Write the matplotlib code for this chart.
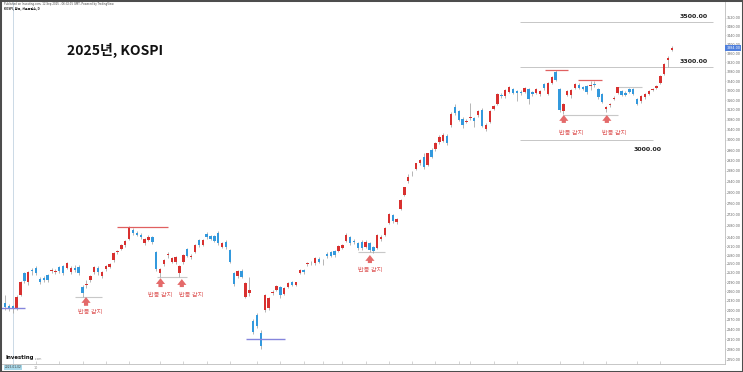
import numpy as np
import matplotlib
matplotlib.use('Agg')
import matplotlib.pyplot as plt
import matplotlib.transforms as mtransforms
from matplotlib.patches import Rectangle
from matplotlib.ticker import FixedLocator, NullLocator

plt.rcParams['font.family'] = ['DejaVu Sans', 'Noto Sans CJK KR']
KR = ['Noto Sans CJK KR', 'DejaVu Sans']

# trading days on the chart (27-Dec-2024 .. 12-Sep-2025), daily KOSPI
days_dec24 = [27, 30]
days_jan = [2, 3, 6, 7, 8, 9, 10, 13, 14, 15, 16, 17, 20, 21, 22, 23, 24, 31]
days_feb = [3, 4, 5, 6, 7, 10, 11, 12, 13, 14, 17, 18, 19, 20, 21, 24, 25, 26, 27, 28]
days_mar = [4, 5, 6, 7, 10, 11, 12, 13, 14, 17, 18, 19, 20, 21, 24, 25, 26, 27, 28, 31]
days_apr = [1, 2, 3, 4, 7, 8, 9, 10, 11, 14, 15, 16, 17, 18, 21, 22, 23, 24, 25, 28, 29, 30]
days_may = [2, 7, 8, 9, 12, 13, 14, 15, 16, 19, 20, 21, 22, 23, 26, 27, 28, 29, 30]
days_jun = [2, 4, 5, 9, 10, 11, 12, 13, 16, 17, 18, 19, 20, 23, 24, 25, 26, 27, 30]
days_jul = [1, 2, 3, 4, 7, 8, 9, 10, 11, 14, 15, 16, 17, 18, 21, 22, 23, 24, 25, 28, 29, 30, 31]
days_aug = [1, 4, 5, 6, 7, 8, 11, 12, 13, 14, 18, 19, 20, 21, 22, 25, 26, 27, 28, 29]
days_sep = [1, 2, 3, 4, 5, 8, 9, 10, 11, 12]

dates = ['2024-12-%02d' % d for d in days_dec24]
for m, days in zip(range(1, 10), [days_jan, days_feb, days_mar, days_apr, days_may,
                                  days_jun, days_jul, days_aug, days_sep]):
    dates += ['2025-%02d-%02d' % (m, d) for d in days]

opens = [2423, 2414, 2412, 2405, 2448, 2519, 2490, 2530, 2538, 2500,
         2505, 2512, 2528, 2523, 2540, 2542, 2538, 2522, 2538, 2540,
         2474, 2480, 2496, 2522, 2536, 2510, 2533, 2540, 2562, 2590,
         2600, 2614, 2636, 2666, 2654, 2648, 2620, 2631, 2641, 2590,
         2520, 2549, 2580, 2557, 2557, 2519, 2555, 2600, 2574, 2591,
         2631, 2614, 2652, 2645, 2645, 2657, 2608, 2625, 2597, 2519,
         2510, 2527, 2441, 2455, 2367, 2385, 2329, 2400, 2406, 2456,
         2466, 2475, 2453, 2475, 2490, 2480, 2521, 2530, 2550, 2552,
         2552, 2567, 2562, 2583, 2590, 2592, 2594, 2605, 2628, 2641,
         2628, 2620, 2626, 2608, 2620, 2606, 2605, 2634, 2650, 2692,
         2719, 2694, 2740, 2792, 2841, 2872, 2886, 2909, 2932, 2902,
         2961, 2963, 2990, 2996, 3015, 3058, 3131, 3114, 3082, 3072,
         3086, 3085, 3098, 3121, 3041, 3072, 3125, 3145, 3182, 3177,
         3195, 3207, 3196, 3195, 3195, 3208, 3194, 3190, 3186, 3226,
         3186, 3232, 3278, 3208, 3114, 3180, 3180, 3212, 3224, 3214,
         3218, 3220, 3228, 3206, 3186, 3122, 3140, 3166, 3188, 3197,
         3190, 3205, 3206, 3166, 3158, 3171, 3187, 3202, 3212, 3230,
         3270, 3330, 3372]
highs = [2450, 2420, 2416, 2447, 2494, 2523, 2528, 2535, 2542, 2506,
         2510, 2518, 2535, 2532, 2544, 2548, 2556, 2542, 2546, 2545,
         2480, 2498, 2512, 2542, 2542, 2526, 2546, 2554, 2590, 2598,
         2618, 2630, 2679, 2672, 2662, 2655, 2638, 2648, 2646, 2594,
         2536, 2568, 2590, 2575, 2578, 2546, 2584, 2604, 2584, 2617,
         2636, 2634, 2658, 2650, 2648, 2662, 2626, 2630, 2600, 2522,
         2530, 2532, 2492, 2506, 2372, 2392, 2340, 2452, 2442, 2464,
         2480, 2478, 2475, 2490, 2495, 2492, 2534, 2534, 2556, 2560,
         2572, 2572, 2568, 2590, 2594, 2598, 2614, 2616, 2654, 2646,
         2634, 2624, 2630, 2630, 2624, 2612, 2652, 2648, 2676, 2726,
         2724, 2708, 2776, 2822, 2868, 2880, 2912, 2925, 2950, 2950,
         2968, 2990, 3020, 3026, 3022, 3110, 3145, 3120, 3090, 3082,
         3150, 3092, 3120, 3126, 3068, 3120, 3138, 3188, 3190, 3205,
         3220, 3212, 3202, 3200, 3216, 3212, 3198, 3212, 3204, 3232,
         3236, 3262, 3288, 3212, 3150, 3202, 3205, 3232, 3230, 3220,
         3225, 3240, 3238, 3212, 3190, 3136, 3148, 3175, 3216, 3204,
         3196, 3210, 3212, 3170, 3180, 3190, 3202, 3212, 3224, 3264,
         3318, 3346, 3390]
lows = [2402, 2398, 2390, 2400, 2445, 2488, 2482, 2515, 2512, 2484,
        2492, 2492, 2520, 2516, 2520, 2515, 2533, 2518, 2524, 2514,
        2442, 2470, 2490, 2518, 2515, 2503, 2528, 2535, 2556, 2582,
        2596, 2608, 2632, 2648, 2644, 2636, 2615, 2627, 2618, 2528,
        2508, 2542, 2570, 2552, 2550, 2508, 2550, 2574, 2566, 2586,
        2608, 2610, 2636, 2630, 2624, 2615, 2604, 2602, 2552, 2478,
        2505, 2502, 2438, 2445, 2328, 2345, 2281, 2396, 2400, 2448,
        2460, 2440, 2450, 2472, 2478, 2476, 2518, 2518, 2544, 2545,
        2548, 2552, 2545, 2570, 2572, 2574, 2590, 2600, 2624, 2615,
        2618, 2598, 2598, 2604, 2590, 2588, 2600, 2628, 2646, 2688,
        2692, 2688, 2736, 2788, 2836, 2860, 2882, 2904, 2888, 2898,
        2930, 2958, 2984, 2990, 2980, 3052, 3100, 3075, 3048, 3065,
        3080, 3050, 3092, 3050, 3035, 3068, 3118, 3140, 3168, 3170,
        3190, 3185, 3157, 3180, 3190, 3145, 3178, 3186, 3178, 3204,
        3180, 3228, 3240, 3112, 3105, 3175, 3170, 3205, 3205, 3200,
        3186, 3200, 3214, 3166, 3148, 3112, 3132, 3160, 3184, 3176,
        3178, 3190, 3180, 3138, 3150, 3165, 3182, 3196, 3206, 3226,
        3265, 3300, 3368]
closes = [2410, 2404, 2406, 2442, 2489, 2494, 2522, 2525, 2520, 2490,
          2498, 2496, 2529, 2527, 2526, 2520, 2552, 2538, 2530, 2520,
          2456, 2484, 2509, 2539, 2523, 2522, 2542, 2550, 2586, 2592,
          2614, 2628, 2675, 2657, 2650, 2641, 2634, 2643, 2624, 2534,
          2532, 2563, 2582, 2570, 2573, 2544, 2580, 2578, 2576, 2614,
          2614, 2631, 2641, 2634, 2628, 2620, 2622, 2608, 2557, 2484,
          2527, 2506, 2488, 2466, 2333, 2350, 2291, 2448, 2438, 2458,
          2477, 2447, 2472, 2487, 2482, 2489, 2530, 2524, 2552, 2554,
          2570, 2558, 2563, 2576, 2578, 2580, 2610, 2613, 2650, 2622,
          2624, 2603, 2605, 2625, 2597, 2592, 2650, 2640, 2672, 2723,
          2698, 2703, 2773, 2819, 2859, 2871, 2909, 2922, 2896, 2948,
          2935, 2986, 3012, 3020, 2988, 3104, 3108, 3080, 3058, 3074,
          3090, 3073, 3117, 3056, 3060, 3116, 3134, 3184, 3176, 3202,
          3214, 3190, 3190, 3188, 3212, 3166, 3186, 3208, 3198, 3209,
          3230, 3257, 3245, 3119, 3145, 3198, 3200, 3226, 3212, 3208,
          3192, 3222, 3224, 3172, 3153, 3130, 3142, 3169, 3213, 3180,
          3182, 3194, 3185, 3142, 3175, 3185, 3197, 3207, 3220, 3260,
          3314, 3340, 3384]

# right price scale labels and bottom date ticks
price_ticks = [3520, 3480, 3440, 3400, 3360, 3320, 3280, 3240, 3200, 3160, 3120, 3080,
               3040, 3000, 2960, 2920, 2880, 2840, 2800, 2760, 2720, 2680, 2640, 2610,
               2580, 2550, 2520, 2490, 2460, 2430, 2400, 2370, 2340, 2310, 2280, 2250]
tick_dates = ['2025-01-10', '2025-01-20', '2025-02-03', '2025-02-11', '2025-02-19',
              '2025-03-04', '2025-03-12', '2025-03-20', '2025-03-28', '2025-04-08',
              '2025-04-16', '2025-04-24', '2025-05-02', '2025-05-13', '2025-05-21',
              '2025-05-29', '2025-06-10', '2025-06-18', '2025-06-26', '2025-07-01',
              '2025-07-09', '2025-07-17', '2025-08-01', '2025-08-11', '2025-08-20',
              '2025-09-01', '2025-09-09']
cursor_date = '2025-01-02'

# drawn levels (price, from, to) in bar-index units
level_prices = [3500, 3300, 3000]
level_x0 = [132.8, 132.8, 132.8]
level_x1 = [182.6, 182.6, 167.1]
red_lines = [(2677, 28.9, 42.0), (3287, 139.2, 145.1), (3244, 147.8, 154.0)]
blue_lines = [(2406, -1.3, 5.2), (2310, 62.1, 72.2)]
grey_lines = [(2443, 18.0, 25.0), (2508, 39.2, 46.9), (2591, 91.0, 98.0),
              (3100, 143.8, 158.0), (3213, 158.0, 164.2)]

# '반등 감지' arrows: x, tip, tail, text x, text price
reb_x = [20.9, 40.1, 45.6, 94.1, 144.1, 155.2]
reb_tip = [2442, 2503, 2500, 2580, 3099, 3099]
reb_tail = [2414, 2474, 2474, 2553, 3067, 3067]
reb_tx = [21.9, 40.1, 48.1, 94.1, 146.1, 157.0]
reb_ty = [2395, 2449, 2449, 2530, 3028, 3028]

RED = '#d8302f'
BLUE = '#3399dd'

o = np.array(opens, float)
h = np.array(highs, float)
l = np.array(lows, float)
c = np.array(closes, float)
x = np.arange(len(dates))
up = c >= o

fig = plt.figure(figsize=(7.43, 3.72), dpi=100)
ax = fig.add_axes([1 / 743, 8 / 372, 724 / 743, 362 / 372])
ax.set_yscale('log')
ax.set_ylim(2237, 3593)
ax.set_xlim(-1.03, 185.67)

# crosshair
ax.axvline(dates.index(cursor_date), color='#c3d3e2', lw=0.6, zorder=1)

ax.vlines(x, l, h, color='#a9a9a9', lw=0.6, zorder=2)
body_h = np.maximum(np.abs(c - o), c * 0.0009)
ax.bar(x, body_h, bottom=np.minimum(o, c), width=0.62,
       color=np.where(up, RED, BLUE), linewidth=0, zorder=3)

for p, x0, x1 in zip(level_prices, level_x0, level_x1):
    ax.hlines(p, x0, x1, color='#c6c6c6', lw=0.7, zorder=1)
for p, x0, x1 in red_lines:
    ax.hlines(p, x0, x1, color='#e06060', lw=0.9, zorder=4)
for p, x0, x1 in blue_lines:
    ax.hlines(p, x0, x1, color='#8585dc', lw=1.0, zorder=4)
for p, x0, x1 in grey_lines:
    ax.hlines(p, x0, x1, color='#c8c8c8', lw=0.8, zorder=1)

ax.annotate('%.2f' % level_prices[0], xy=(181.2, level_prices[0]), xytext=(0, 2),
            textcoords='offset points', ha='right', va='bottom', fontsize=4.5,
            fontweight='bold', color='#222222')
ax.annotate('%.2f' % level_prices[1], xy=(181.2, level_prices[1]), xytext=(0, 2),
            textcoords='offset points', ha='right', va='bottom', fontsize=4.5,
            fontweight='bold', color='#222222')
ax.annotate('%.2f' % level_prices[2], xy=(169.3, level_prices[2]), xytext=(0, -5.5),
            textcoords='offset points', ha='right', va='top', fontsize=4.5,
            fontweight='bold', color='#222222')

for xi, tip, tail in zip(reb_x, reb_tip, reb_tail):
    ax.annotate('', xy=(xi, tip), xytext=(xi, tail),
                arrowprops=dict(arrowstyle='simple,head_length=0.7,head_width=1.1,tail_width=0.5',
                                fc='#e46a6a', ec='none', mutation_scale=6, shrinkA=0, shrinkB=0))
for tx, ty in zip(reb_tx, reb_ty):
    ax.text(tx, ty, '반등 감지', ha='center', va='center', fontsize=4.5,
            color='#de5858', family=KR)

# axes look
for s in ['left', 'top']:
    ax.spines[s].set_visible(False)
for s in ['right', 'bottom']:
    ax.spines[s].set_color('#bdbdbd')
    ax.spines[s].set_linewidth(0.6)
ax.yaxis.tick_right()
ax.yaxis.set_major_locator(FixedLocator(price_ticks))
ax.yaxis.set_minor_locator(NullLocator())
ax.set_yticklabels(['%.2f' % v for v in price_ticks])
ax.tick_params(axis='y', labelsize=2.4, labelcolor='#666666', color='#bdbdbd',
               length=1, width=0.4, pad=0.6)
ax.set_xticks([dates.index(d) for d in tick_dates])
ax.set_xticklabels([])
ax.tick_params(axis='x', direction='in', length=2, width=0.5, color='#c4c4c4')

blend = mtransforms.blended_transform_factory(ax.transData, ax.transAxes)
ax.text(dates.index(tick_dates[0]), -0.006, tick_dates[0][-2:], transform=blend,
        ha='center', va='top', fontsize=2.4, color='#888888')
ax.text(dates.index(cursor_date), -0.004, cursor_date, transform=blend, ha='center',
        va='top', fontsize=2.1, color='#333333',
        bbox=dict(boxstyle='square,pad=0.25', fc='#a9d9ea', ec='none'))

blend_r = mtransforms.blended_transform_factory(ax.transAxes, ax.transData)
ax.text(1.002, c[-1], '%.2f' % c[-1], transform=blend_r, ha='left', va='center',
        fontsize=2.4, color='white', zorder=10, clip_on=False,
        bbox=dict(boxstyle='square,pad=0.3', fc='#4f7fdc', ec='none'))

# headers, title, logo
fig.text(4 / 743, 1 - 4.5 / 372,
         'Published on Investing.com, 12-Sep-2025 - 06:32:15 GMT, Powered by TradingView.',
         fontsize=1.9, color='#444444', va='center')
fig.text(4 / 743, 1 - 8.5 / 372, 'KOSPI, 한국, 서울증권소, D', fontsize=2.2,
         fontweight='bold', color='#222222', va='center', family=KR)
fig.text(115 / 743, 1 - 50 / 372, '2025년, KOSPI', ha='center', va='center',
         fontsize=10, fontweight='bold', color='#111111', family=KR)
fig.text(6 / 743, 1 - 358 / 372, 'Investing', fontsize=3.9, fontweight='bold',
         color='#111111', va='center')
fig.text(35 / 743, 1 - 358.5 / 372, '.com', fontsize=2.2, color='#888888', va='center')

fig.add_artist(Rectangle((0, 0), 1, 1, transform=fig.transFigure, fill=False,
                         ec='#4d4d4d', lw=2.2))

fig.savefig('out.png', dpi=100, facecolor='white')
